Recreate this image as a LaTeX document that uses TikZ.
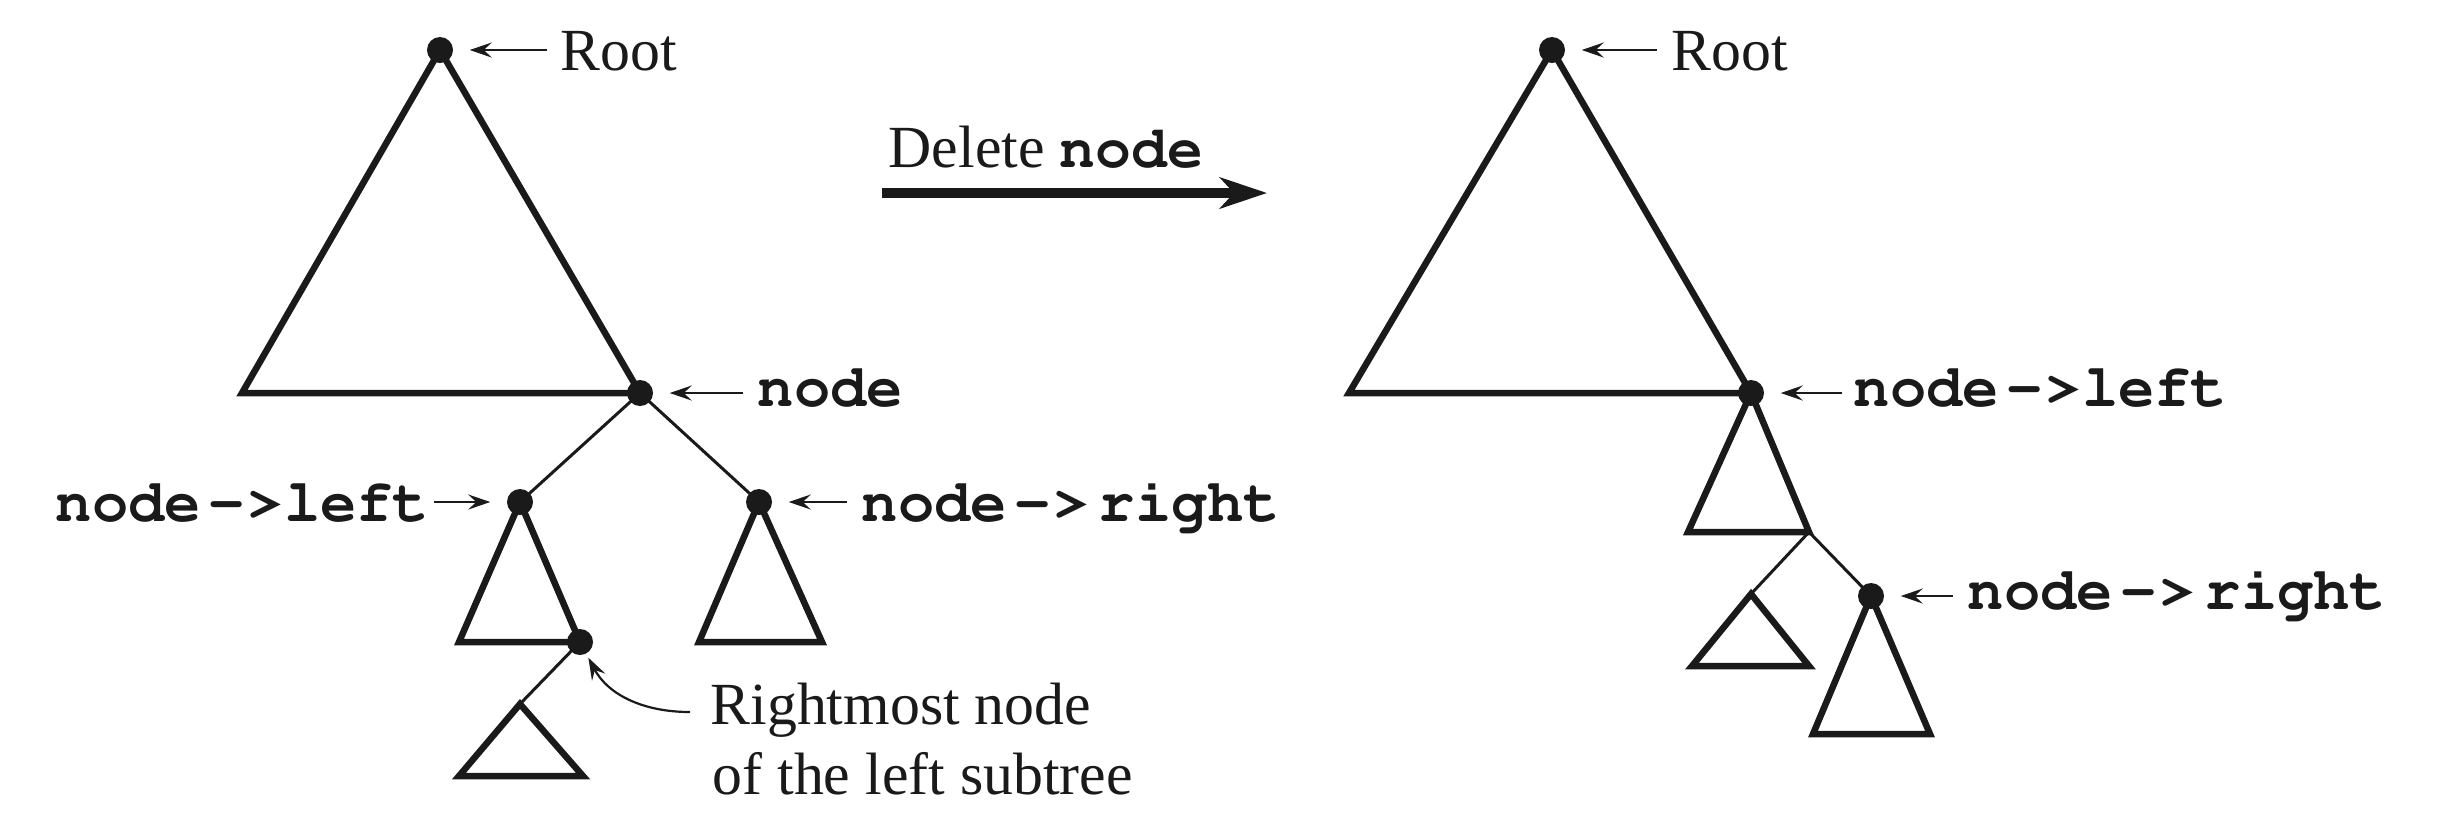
\documentclass[tikz,border=0pt]{standalone}
\usepackage[T1]{fontenc}
\usepackage{fontspec}
\setmainfont{Liberation Serif}
\setmonofont{Liberation Mono}
\usetikzlibrary{arrows.meta}
\definecolor{ink}{HTML}{1A1A1A}
\newcommand{\codefont}{\fontencoding{T1}\fontfamily{pcr}\fontseries{b}\selectfont}
\newcommand{\nleft}{node\kern2.2pt-\kern0.8pt>left}
\newcommand{\nright}{node\kern2.2pt-\kern0.8pt>\kern2.5pt right}
\begin{document}
\begin{tikzpicture}[x=0.01cm,y=-0.01cm,
  font=\fontsize{17}{20}\selectfont,
  dot/.style={circle,fill=ink,draw=none,inner sep=0pt,minimum size=0.26cm},
  tri/.style={draw=ink,line width=0.065cm,line join=miter},
  edge/.style={draw=ink,line width=0.03cm},
  ann/.style={draw=ink,line width=0.022cm,-{Stealth[length=0.22cm,width=0.15cm,inset=0.08cm]},shorten >=0.16cm},
  lab/.style={inner sep=0pt,text=ink,anchor=base west},
  code/.style={lab,font=\fontsize{17.2}{20}\codefont},
  bigarrow/.style={draw=ink,line width=0.1cm,-{Stealth[length=0.47cm,width=0.31cm,inset=0.14cm]}}
]
\useasboundingbox[fill=white] (0,0) rectangle (2442,838);

% ---------- left tree ----------
\coordinate (bl1) at (242,393);
\coordinate (ls1) at (459,642);
\coordinate (rs1a) at (699,642);
\coordinate (rs1b) at (822,642);
\coordinate (sa1) at (520,704);
\coordinate (sb1) at (459,776);
\coordinate (sc1) at (583,776);

\draw[tri] (440,50) -- (bl1) -- (640,393) -- cycle;
\draw[tri] (520,502) -- (ls1) -- (580,642) -- cycle;
\draw[tri] (759,502) -- (rs1a) -- (rs1b) -- cycle;
\draw[tri] (sa1) -- (sb1) -- (sc1) -- cycle;

\node[dot] (r1) at (440,50) {};
\node[dot] (n1) at (640,393) {};
\node[dot] (nl1) at (520,502) {};
\node[dot] (nr1) at (759,502) {};
\node[dot] (rm1) at (580,642) {};

\draw[edge] (n1.center) -- (nl1.center);
\draw[edge] (n1.center) -- (nr1.center);
\draw[edge] (rm1.center) -- (sa1);

\node[lab] (rootlab1) at (560,70) {Root};
\coordinate (rt1) at (547,50);
\draw[ann] (rt1) -- (r1);

\node[code] (nodelab) at (757,406) {node};
\coordinate (nt1) at (743,393);
\draw[ann] (nt1) -- (n1);

\node[code,anchor=base east] (nllab1) at (430,521) {\nleft};
\coordinate (nlt1) at (434,502);
\draw[ann] (nlt1) -- (nl1);

\node[code] (nrlab1) at (861,521) {\nright};
\coordinate (nrt1) at (847,502);
\draw[ann] (nrt1) -- (nr1);

\node[lab] (rmlab1) at (710,724) {Rightmost node};
\node[lab] (rmlab2) at (712,794) {of the left subtree};
\coordinate (ct) at (690,712);
\draw[ann,shorten >=0.04cm] (ct) to[out=180,in=-62] (rm1);

% ---------- middle arrow ----------
\node[lab] (dellab) at (888,167) {Delete {\codefont node}};
\coordinate (ba) at (882,193);
\coordinate (bb) at (1267,193);
\draw[bigarrow] (ba) -- (bb);

% ---------- right tree ----------
\coordinate (bl2) at (1349,393);
\coordinate (la2) at (1688,532);
\coordinate (j2) at (1809,532);
\coordinate (sa2) at (1751,594);
\coordinate (sb2) at (1692,666);
\coordinate (sc2) at (1809,666);
\coordinate (rb2a) at (1813,734);
\coordinate (rb2b) at (1930,734);

\draw[tri] (1552,50) -- (bl2) -- (1751,393) -- cycle;
\draw[tri] (1751,393) -- (la2) -- (j2) -- cycle;
\draw[tri] (sa2) -- (sb2) -- (sc2) -- cycle;
\draw[tri] (1871,596) -- (rb2a) -- (rb2b) -- cycle;

\node[dot] (r2) at (1552,50) {};
\node[dot] (nl2) at (1751,393) {};
\node[dot] (nr2) at (1871,596) {};

\draw[edge] (j2) -- (nr2.center);
\draw[edge] (j2) -- (sa2);

\node[lab] (rootlab2) at (1671,70) {Root};
\coordinate (rt2) at (1657,50);
\draw[ann] (rt2) -- (r2);

\node[code] (nllab2) at (1853,406) {\nleft};
\coordinate (nlt2) at (1842,393);
\draw[ann] (nlt2) -- (nl2);

\node[code] (nrlab2) at (1967,609) {\nright};
\coordinate (nrt2) at (1953,596);
\draw[ann] (nrt2) -- (nr2);
\end{tikzpicture}
\end{document}
